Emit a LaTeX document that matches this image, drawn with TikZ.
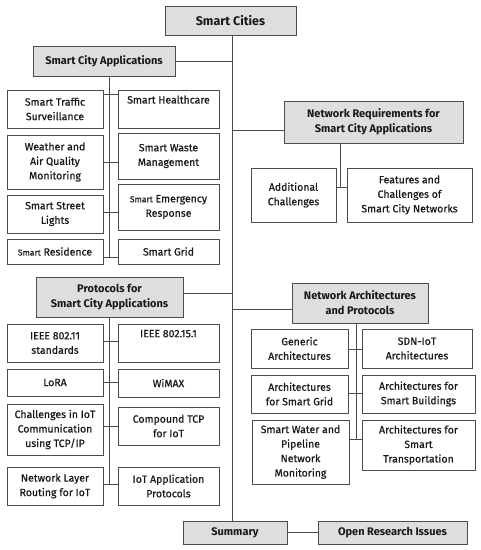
\documentclass[tikz,border=0pt]{standalone}
\usepackage{fontspec}
\setmainfont{Fira Sans}
\newfontfamily\medfont{Fira Sans}[FakeBold=0.7]
\begin{document}
\begin{tikzpicture}[x=1pt,y=-1pt,
  box/.style={draw=black!70,line width=1pt,rectangle,inner sep=1pt,align=center,text=black!90,font=\medfont\fontsize{10.5}{14.5}\selectfont},
  gbox/.style={box,fill=black!13,font=\fontsize{11}{15}\selectfont\bfseries},
  conn/.style={draw=black!70,line width=0.9pt}]
\useasboundingbox (0,0) rectangle (481,550);
% headers
\node[gbox,minimum width=131pt,minimum height=29pt,font=\fontsize{12.5}{15}\selectfont\bfseries] (sc) at (230.5,20.5) {Smart Cities};
\node[gbox,minimum width=142pt,minimum height=30pt] (sca) at (104,61) {Smart City Applications};
\node[gbox,minimum width=179pt,minimum height=42pt] (nr) at (373.5,122) {Network Requirements for\\Smart City Applications};
\node[gbox,minimum width=147pt,minimum height=40pt] (pr) at (109.5,297) {Protocols for\\Smart City Applications};
\node[gbox,minimum width=136pt,minimum height=40pt] (na) at (360,303) {Network Architectures\\and Protocols};
\node[gbox,minimum width=104pt,minimum height=23pt] (sum) at (235,532.5) {Summary};
\node[gbox,minimum width=149pt,minimum height=23pt] (ori) at (392.5,532.5) {Open Research Issues};
% applications
\node[box,minimum width=96pt,minimum height=38pt] (st) at (55,109) {Smart Traffic\\Surveillance};
\node[box,minimum width=101pt,minimum height=38pt] (sh) at (168.5,109) {Smart Healthcare\\\strut};
\node[box,minimum width=96pt,minimum height=54pt] (wa) at (55,162) {Weather and\\Air Quality\\Monitoring};
\node[box,minimum width=101pt,minimum height=46pt] (sw) at (168.5,156) {Smart Waste\\Management};
\node[box,minimum width=96pt,minimum height=38pt] (sl) at (55,214) {Smart Street\\Lights};
\node[box,minimum width=101pt,minimum height=46pt] (se) at (168.5,207) {{\fontsize{8.5}{14}\selectfont Smart} Emergency\\Response};
\node[box,minimum width=96pt,minimum height=25pt] (sr) at (55,251.5) {{\fontsize{8.5}{14}\selectfont Smart} Residence};
\node[box,minimum width=101pt,minimum height=25pt] (sg) at (168.5,251.5) {Smart Grid};
% requirements
\node[box,minimum width=85pt,minimum height=54pt] (ac) at (293.5,195) {Additional\\Challenges};
\node[box,minimum width=125pt,minimum height=54pt] (fc) at (409.5,195) {Features and\\Challenges of\\Smart City Networks};
% protocols
\node[box,minimum width=96pt,minimum height=38pt] (i11) at (55,343) {IEEE 802.11\\standards};
\node[box,minimum width=101pt,minimum height=38pt] (i15) at (168.5,343) {IEEE 802.15.1\\\strut};
\node[box,minimum width=96pt,minimum height=27pt] (lora) at (55,382.5) {LoRA};
\node[box,minimum width=101pt,minimum height=28pt] (wimax) at (168.5,383) {WiMAX};
\node[box,minimum width=96pt,minimum height=51pt] (ch) at (55,429.5) {Challenges in IoT\\Communication\\using TCP/IP};
\node[box,minimum width=101pt,minimum height=38pt] (ctcp) at (168.5,426) {Compound TCP\\for IoT};
\node[box,minimum width=96pt,minimum height=38pt] (nl) at (55,486) {Network Layer\\Routing for IoT};
\node[box,minimum width=101pt,minimum height=38pt] (iap) at (168.5,486) {IoT Application\\Protocols};
% architectures
\node[box,minimum width=97pt,minimum height=39pt] (ga) at (299.5,348.5) {Generic\\Architectures};
\node[box,minimum width=110pt,minimum height=39pt] (sdn) at (417,348.5) {SDN-IoT\\Architectures};
\node[box,minimum width=97pt,minimum height=38pt] (asg) at (299.5,394) {Architectures\\for Smart Grid};
\node[box,minimum width=113pt,minimum height=38pt] (asb) at (418.5,394) {Architectures for\\Smart Buildings};
\node[box,minimum width=97pt,minimum height=64pt] (swp) at (300.5,452) {Smart Water and\\Pipeline\\Network\\Monitoring};
\node[box,minimum width=113pt,minimum height=50pt] (ast) at (418.5,445) {Architectures for\\Smart\\Transportation};
% coordinates
\coordinate (t) at (232,0);
\coordinate (v1) at (109,257);
\coordinate (j1) at (109,94);
\coordinate (j2) at (109,162);
\coordinate (j3) at (109,212);
\coordinate (jnr) at (0,130);
\coordinate (v2) at (340,187);
\coordinate (jpr) at (0,293);
\coordinate (v3) at (109,484);
\coordinate (k1) at (109,341);
\coordinate (k2) at (109,382);
\coordinate (k3) at (109,426);
\coordinate (jna) at (0,309);
\coordinate (v4) at (356,439);
\coordinate (m1) at (356,349);
\coordinate (m2) at (356,393);
% trunk
\draw[conn] (sc.south -| t) -- (sum.north -| t);
\draw[conn] (sca.east) -- (sca.east -| t);
\draw[conn] (nr.west |- jnr) -- (t |- jnr);
\draw[conn] (pr.east |- jpr) -- (t |- jpr);
\draw[conn] (na.west |- jna) -- (t |- jna);
\draw[conn] (sum) -- (ori);
% applications
\draw[conn] (sca.south -| v1) -- (v1);
\draw[conn] (st.east |- j1) -- (sh.west |- j1);
\draw[conn] (wa.east |- j2) -- (sw.west |- j2);
\draw[conn] (sl.east |- j3) -- (se.west |- j3);
\draw[conn] (sr.east |- v1) -- (sg.west |- v1);
% requirements
\draw[conn] (nr.south -| v2) -- (v2);
\draw[conn] (ac.east |- v2) -- (fc.west |- v2);
% protocols
\draw[conn] (pr.south -| v3) -- (v3);
\draw[conn] (i11.east |- k1) -- (i15.west |- k1);
\draw[conn] (lora.east |- k2) -- (wimax.west |- k2);
\draw[conn] (ch.east |- k3) -- (ctcp.west |- k3);
\draw[conn] (nl.east |- v3) -- (iap.west |- v3);
% architectures
\draw[conn] (na.south -| v4) -- (v4);
\draw[conn] (ga.east |- m1) -- (sdn.west |- m1);
\draw[conn] (asg.east |- m2) -- (asb.west |- m2);
\draw[conn] (swp.east |- v4) -- (ast.west |- v4);
\end{tikzpicture}
\end{document}
